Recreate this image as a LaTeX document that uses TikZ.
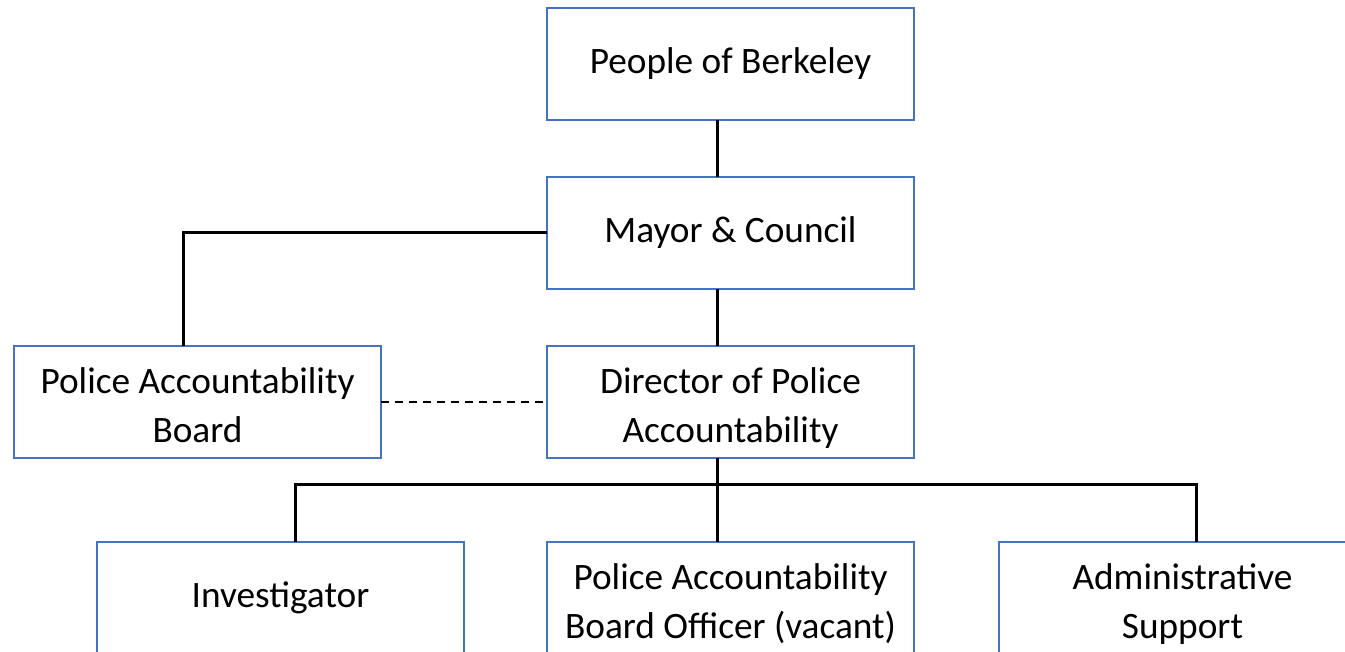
\documentclass[tikz,border=0pt]{standalone}
\usepackage{fontspec}
\setmainfont{Carlito}
\usetikzlibrary{positioning}
\definecolor{boxBlue}{RGB}{68, 114, 196}

\begin{document}
\begin{tikzpicture}[
    x=1pt, y=1pt,
    % --- Box Styles ---
    orgbox/.style={
        rectangle,
        draw=boxBlue,
        line width=2.3pt,
        outer sep=0pt,
        minimum width=367pt,    % all boxes share one size
        minimum height=112pt,
        align=center,
        font=\fontsize{37.3}{49}\selectfont
    },
    twoline/.style={orgbox, text height=81pt, text depth=0pt}, % sits the text block a bit lower
    link/.style={draw=black, line width=3pt},
    dashlink/.style={draw=black, line width=2.4pt, dash pattern=on 8pt off 6pt}
]
    % page frame
    \useasboundingbox (0,0) rectangle (1345,-652);
    \fill[white] (0,0) rectangle (1345,-652);
    \clip (0,0) rectangle (1345,-652);

    % --- Top Spine ---
    \node (people) [orgbox] at (730.5,-64) {People of Berkeley};
    \node (mayor) [orgbox, below=57pt of people] {Mayor \& Council};
    \node (director) [twoline, below=57pt of mayor] {Director of Police\\Accountability};

    % --- Board (left of director) ---
    \node (board) [twoline, left=166pt of director] {Police Accountability\\Board};

    % --- Staff Row ---
    \node (officer) [twoline, below=84pt of director] {Police Accountability\\Board Officer (vacant)};
    \node (investigator) [orgbox, left=83pt of officer] {Investigator};
    \node (admin) [twoline, right=85pt of officer] {Administrative\\Support};

    % --- Connectors ---
    \draw [link] ([xshift=-13]people.south) -- ([xshift=-13]mayor.north);
    \draw [link] (mayor.west) -| ([xshift=-14.5]board.north);
    \draw [link] ([xshift=-13]mayor.south) -- ([xshift=-13]director.north);
    \draw [dashlink] (board.east) -- (director.west);
    \draw [link] ([xshift=-13]director.south) -- ([xshift=-13]officer.north);
    \draw [link] ([xshift=14.5]investigator.north) |- ([yshift=-26]director.south)
        -| ([xshift=13.5]admin.north); % staff bus

\end{tikzpicture}
\end{document}
